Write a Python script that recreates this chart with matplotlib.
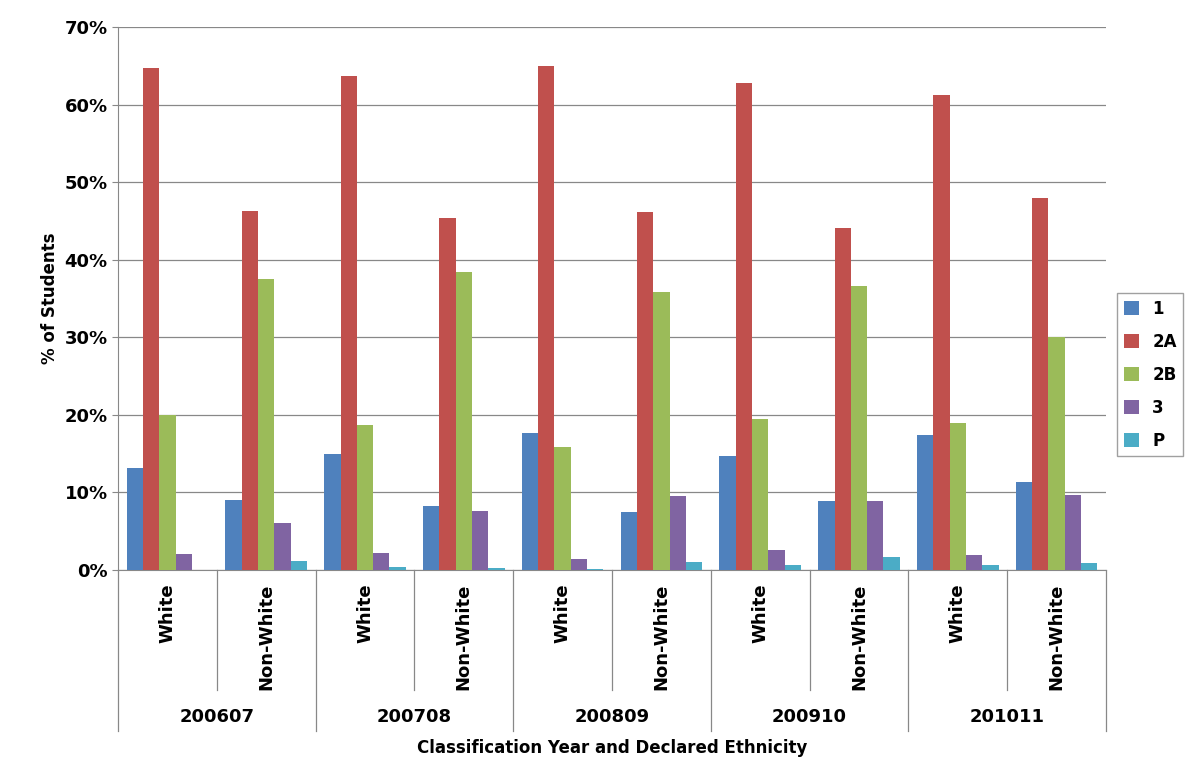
import numpy as np
import matplotlib.pyplot as plt
from matplotlib.ticker import FuncFormatter

# -----------------------------
# Data
# -----------------------------
years = ["200607", "200708", "200809", "200910", "201011"]
ethnicities = ["White", "Non-White"]
series_names = ["1", "2A", "2B", "3", "P"]
colors = ["#4F81BD", "#C0504D", "#9BBB59", "#8064A2", "#4BACC6"]

s1 = [13.2, 9.0, 14.9, 8.3, 17.7, 7.5, 14.7, 8.9, 17.4, 11.4]
s2a = [64.7, 46.3, 63.7, 45.4, 65.0, 46.2, 62.8, 44.1, 61.2, 47.9]
s2b = [20.0, 37.5, 18.7, 38.4, 15.9, 35.8, 19.5, 36.6, 19.0, 30.1]
s3 = [2.1, 6.1, 2.2, 7.6, 1.4, 9.6, 2.6, 8.9, 1.9, 9.7]
sp = [0.0, 1.2, 0.4, 0.3, 0.1, 1.0, 0.6, 1.7, 0.7, 0.9]
values = [s1, s2a, s2b, s3, sp]

# -----------------------------
# Plot
# -----------------------------
fig = plt.figure(figsize=(11.94, 7.83), dpi=100)
ax = fig.add_axes([118/1194, 213/783, 988/1194, 543/783])

n = len(s1)
x = np.arange(n)
w = 0.165
for i, (name, vals, c) in enumerate(zip(series_names, values, colors)):
    ax.bar(x + (i - 2) * w, vals, w, color=c, label=name, zorder=3)

ax.set_xlim(-0.5, n - 0.5)
ax.set_ylim(0, 70)
ax.set_yticks(range(0, 71, 10))
ax.yaxis.set_major_formatter(FuncFormatter(lambda v, p: f"{int(v)}%"))
ax.grid(axis="y", color="#888888", linewidth=0.9, zorder=0)
ax.set_xticks([])
for s in ["top", "right"]:
    ax.spines[s].set_visible(False)
ax.spines["left"].set_color("#888888")
ax.spines["bottom"].set_color("#888888")
ax.tick_params(axis="y", length=4, color="#888888", labelsize=13)
for t in ax.get_yticklabels():
    t.set_fontweight("bold")
ax.set_ylabel("% of Students", fontsize=12, fontweight="bold")

# multi-level category labels
ytr = ax.get_xaxis_transform()
for i in range(n):
    ax.text(i, -0.025, ethnicities[i % 2], rotation=90, ha="center", va="top",
            fontsize=13, fontweight="bold", transform=ytr)
for j, yr in enumerate(years):
    ax.text(2 * j + 0.5, -0.27, yr, ha="center", va="center",
            fontsize=13, fontweight="bold", transform=ytr)
for k in range(n + 1):
    bottom = -0.296 if k % 2 == 0 else -0.221
    ax.plot([k - 0.5, k - 0.5], [0, bottom], color="#888888", lw=0.9,
            transform=ytr, clip_on=False)
ax.text(0.5, -0.327, "Classification Year and Declared Ethnicity", ha="center",
        va="center", fontsize=12, fontweight="bold", transform=ax.transAxes)

leg = ax.legend(loc="center left", bbox_to_anchor=(1.003, 0.36), frameon=True,
                fancybox=False, edgecolor="#888888", prop={"weight": "bold", "size": 12},
                handlelength=0.9, handleheight=0.9, labelspacing=0.9)

fig.savefig("out.png", dpi=100)
